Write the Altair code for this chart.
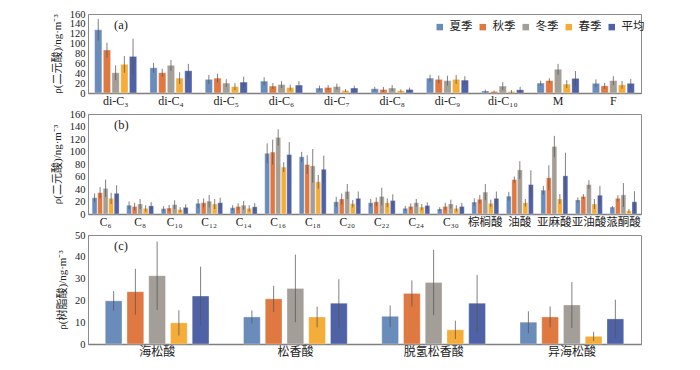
import altair as alt
import pandas as pd

seasons = ["夏季", "秋季", "冬季", "春季", "平均"]
colors = ["#6a8cbb", "#e07841", "#a49e98", "#f5ad3a", "#4f62a5"]

# Panel (a)
cats_a = ["di-C₃", "di-C₄", "di-C₅", "di-C₆", "di-C₇", "di-C₈", "di-C₉", "di-C₁₀", "M", "F"]
summer_a = [128, 51, 27.5, 24, 10, 8.5, 30, 4, 20, 19.5]
summer_a_sd = [22, 10, 9, 8, 5, 4, 7, 3, 5, 8]
autumn_a = [87, 41, 30, 14, 11, 7, 27.5, 3, 25, 14.5]
autumn_a_sd = [15, 8, 9, 6, 5, 5, 8, 2, 5, 6]
winter_a = [41, 56, 20, 17, 13, 10, 25, 14, 48, 25]
winter_a_sd = [15, 11, 8, 7, 6, 6, 10, 8, 11, 9]
spring_a = [58, 30, 13, 11, 5, 4.5, 27.5, 3, 18, 16.5]
spring_a_sd = [17, 12, 7, 6, 3, 3, 9, 3, 8, 8]
mean_a = [74, 45, 22, 16, 10, 7, 26, 6.5, 29.5, 19.5]
mean_a_sd = [36, 14, 11, 8, 5, 4, 8, 6, 15, 9]

# Panel (b)
cats_b = ["C₆", "C₈", "C₁₀", "C₁₂", "C₁₄", "C₁₆", "C₁₈", "C₂₀", "C₂₂", "C₂₄", "C₃₀",
          "棕榈酸", "油酸", "亚麻酸", "亚油酸", "蒎酮酸"]
summer_b = [26, 14, 8.5, 17, 10, 97, 91.5, 19.5, 18, 9, 8, 19, 28.5, 38, 22.5, 11]
summer_b_sd = [7, 6, 4, 7, 4, 16, 8, 8, 6, 4, 3, 6, 7, 7, 4, 2]
autumn_b = [34, 12, 9.5, 18, 12, 99, 79, 24, 19.5, 12, 12, 23.5, 55, 58, 28, 25]
autumn_b_sd = [9, 6, 5, 7, 5, 20, 15, 9, 7, 5, 6, 7, 5, 20, 4, 5]
winter_b = [41, 16, 15, 20.5, 14, 122.5, 77, 36, 28, 18, 16, 35, 70.5, 108, 47, 30.5]
winter_b_sd = [14, 8, 7, 10, 7, 13, 27, 12, 14, 6, 7, 13, 14, 17, 7, 19]
spring_b = [25, 9, 7, 16, 9, 75, 51.5, 16.5, 18, 11, 9, 17, 18, 24, 16, 5]
spring_b_sd = [9, 5, 4, 8, 5, 8, 11, 6, 7, 5, 5, 6, 6, 8, 8, 3]
mean_b = [33, 13, 10.5, 18, 11.5, 95, 71.5, 25, 21.5, 13.5, 12, 25, 47, 61, 30, 19.5]
mean_b_sd = [13, 6, 5, 8, 6, 20, 22, 11, 10, 5, 6, 11, 23, 37, 15, 17]

# Panel (c)
cats_c = ["海松酸", "松香酸", "脱氢松香酸", "异海松酸"]
summer_c = [19.8, 12.4, 12.7, 10]
summer_c_sd = [4.5, 3, 5, 5]
autumn_c = [24, 20.7, 23.2, 12.4]
autumn_c_sd = [10.5, 6, 6, 4.8]
winter_c = [31.3, 25.5, 28.2, 17.9]
winter_c_sd = [15.7, 15.5, 15, 10.5]
spring_c = [9.7, 12.4, 6.5, 3.5]
spring_c_sd = [5.8, 4.8, 4.2, 2.1]
mean_c = [22, 18.7, 18.7, 11.5]
mean_c_sd = [13.5, 11, 13, 8.8]

FONT = "Liberation Serif, Noto Sans CJK SC"


def make_df(cats, vals, sds):
    rows = []
    for s, v, sd in zip(seasons, vals, sds):
        for c, x, e in zip(cats, v, sd):
            rows.append({"group": c, "season": s, "value": x,
                         "lo": max(0, x - e), "hi": x + e})
    return pd.DataFrame(rows)


def panel(df, cats, ymax, ystep, ytitle, h, label, p_in, p_out, off_pad, xfs, show_legend):
    x = alt.X("group:N", sort=cats,
              scale=alt.Scale(paddingInner=p_in, paddingOuter=p_out),
              axis=alt.Axis(title=None, labelAngle=0, ticks=False, labelPadding=2,
                            labelFontSize=xfs, domainColor="#7f7f7f", domainWidth=1.5))
    xo = alt.XOffset("season:N", sort=seasons,
                     scale=alt.Scale(domain=seasons, paddingInner=off_pad, paddingOuter=0))
    y_axis = alt.Axis(title=ytitle, values=list(range(0, ymax + 1, ystep)), grid=False,
                      ticks=False, labelPadding=3, labelFontSize=10.5, titleFontSize=11,
                      titleFontWeight="normal", titlePadding=7, labelOverlap=False,
                      domainColor="#8c8c8c")
    legend = alt.Legend(title=None, orient="none", direction="horizontal",
                        legendX=346, legendY=7, symbolType="square", symbolSize=42,
                        labelFontSize=11.5, columnPadding=4, labelOffset=4,
                        symbolStrokeWidth=0) if show_legend else None
    yscale = alt.Scale(domain=[0, ymax], nice=False)
    base = alt.Chart(df).encode(x=x, xOffset=xo)
    bars = base.mark_bar(stroke="white", strokeWidth=0.5, strokeOpacity=0.6).encode(
        y=alt.Y("value:Q", scale=yscale, axis=y_axis),
        color=alt.Color("season:N", sort=seasons,
                        scale=alt.Scale(domain=seasons, range=colors), legend=legend),
    )
    err = base.mark_rule(color="#555555", opacity=0.75, strokeWidth=1).encode(
        y=alt.Y("lo:Q", scale=yscale, axis=y_axis), y2="hi:Q")
    txt = alt.Chart(pd.DataFrame({"t": [label]})).mark_text(
        align="left", baseline="middle", fontSize=12.5, font=FONT, color="#222"
    ).encode(x=alt.value(26), y=alt.value(11), text="t:N")
    return alt.layer(bars, err, txt).properties(width=553, height=h)


df_a = make_df(cats_a, [summer_a, autumn_a, winter_a, spring_a, mean_a],
               [summer_a_sd, autumn_a_sd, winter_a_sd, spring_a_sd, mean_a_sd])
df_b = make_df(cats_b, [summer_b, autumn_b, winter_b, spring_b, mean_b],
               [summer_b_sd, autumn_b_sd, winter_b_sd, spring_b_sd, mean_b_sd])
df_c = make_df(cats_c, [summer_c, autumn_c, winter_c, spring_c, mean_c],
               [summer_c_sd, autumn_c_sd, winter_c_sd, spring_c_sd, mean_c_sd])

pa = panel(df_a, cats_a, 160, 20, "ρ(二元酸)/ng·m⁻³", 79, "(a)", 0.24, 0.12, 0.17, 12, True)
pb = panel(df_b, cats_b, 160, 20, "ρ(二元酸)/ng·m⁻³", 100, "(b)", 0.22, 0.12, 0.12, 11.5, False)
pc = panel(df_c, cats_c, 50, 10, "ρ(树脂酸)/ng·m⁻³", 109, "(c)", 0.25, 0.125, 0.23, 12, False)

chart = alt.vconcat(pa, pb, pc, spacing=1).resolve_scale(
    color="shared", xOffset="independent"
).configure(
    padding={"left": 42, "top": 0, "right": 5, "bottom": 0},
    font=FONT,
).configure_view(stroke="#8c8c8c", strokeWidth=1).configure_axis(
    labelFont=FONT, titleFont=FONT, labelColor="#222", titleColor="#222"
).configure_legend(labelFont=FONT, labelColor="#222")

chart.save("out.html", embed_options={"renderer": "svg", "actions": False})
